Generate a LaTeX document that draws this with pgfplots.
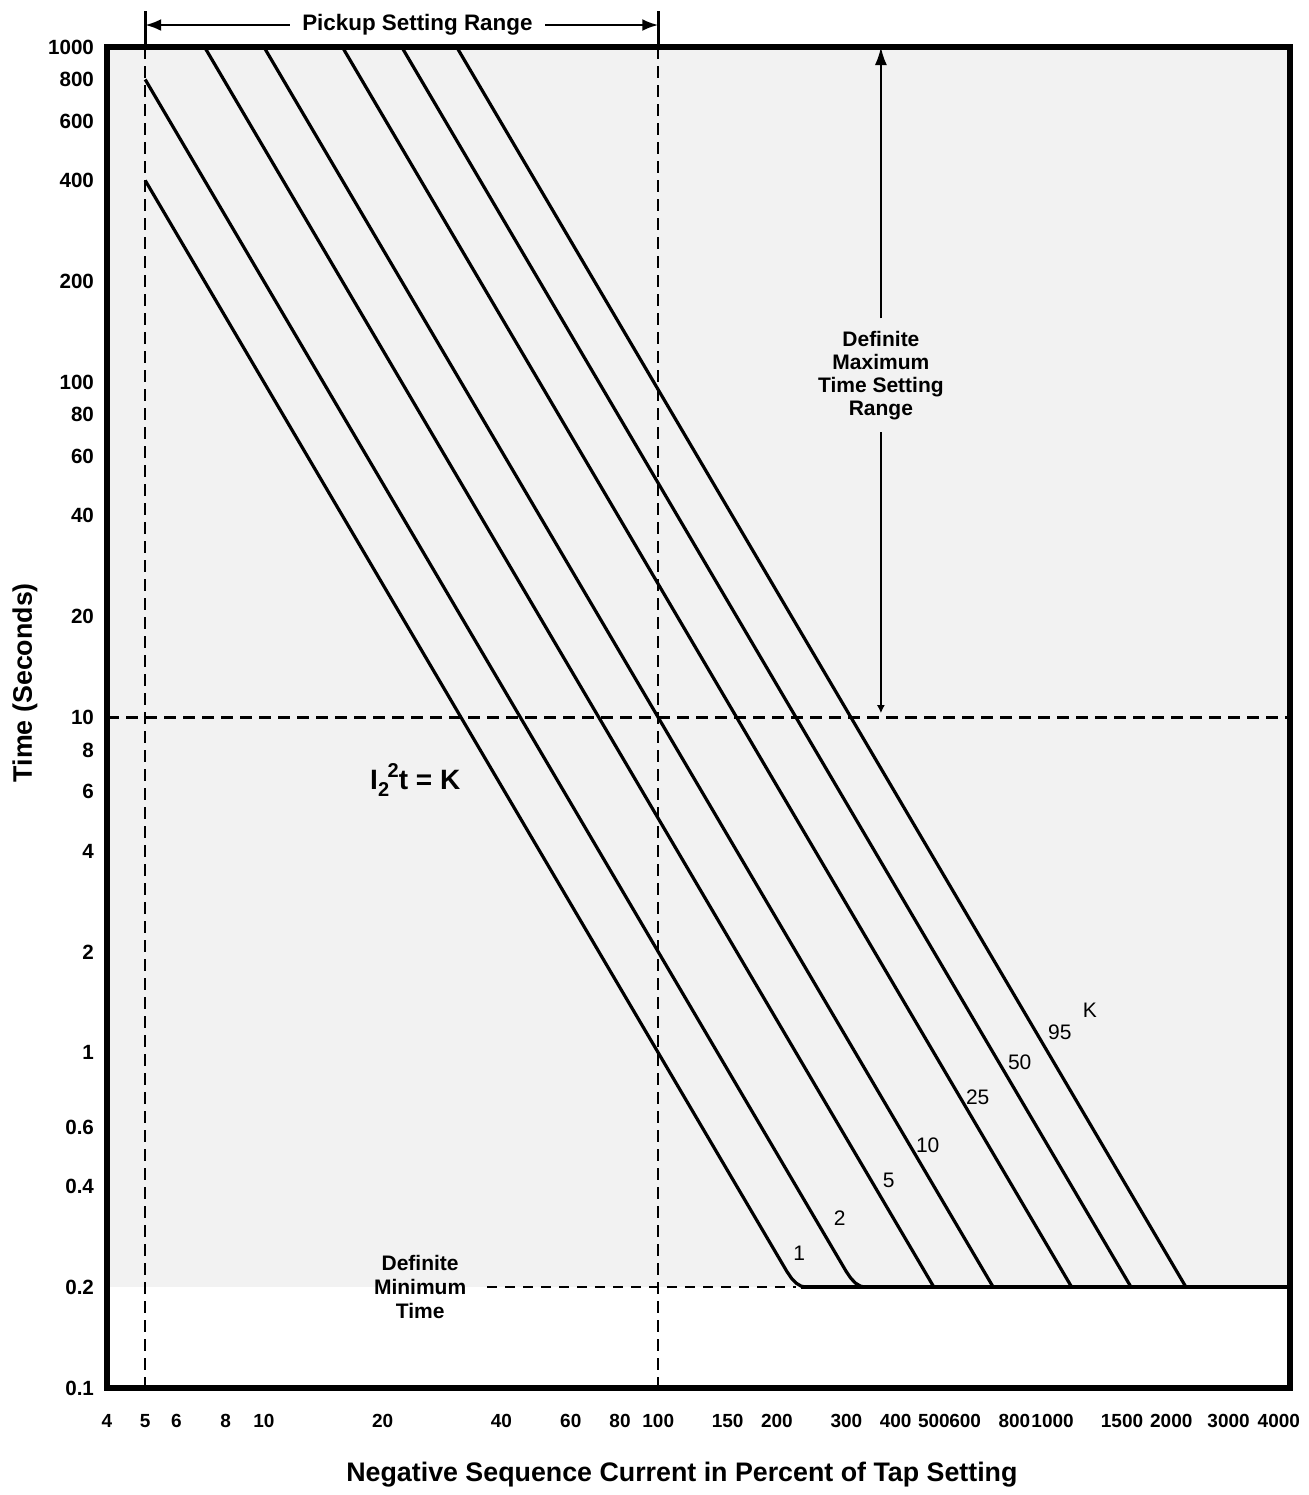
\documentclass[border=0pt]{standalone}
\usepackage{fontspec}
\setmainfont{Liberation Sans}
\usepackage{pgfplots}
\pgfplotsset{compat=1.18}
\usetikzlibrary{arrows.meta}
\begin{document}
\begin{tikzpicture}
\useasboundingbox (-53.5pt,-53.5pt) rectangle (601pt,694pt);
\begin{axis}[
  scale only axis, width=591.5pt, height=670.5pt,
  xmode=log, ymode=log,
  xmin=4, xmax=4000, ymin=0.1, ymax=1000,
  axis on top,
  axis line style={line width=2.6pt},
  major tick length=0pt, minor tick length=0pt,
  xtick={4,5,6,8,10,20,40,60,80,100,150,200,300,400,500,600,800,1000,1500,2000,3000,4000},
  xticklabels={4,5,6,8,10,20,40,60,80,100,150,200,300,400,500,600,800,1000,1500,2000,\makebox[0pt][r]{3000\kern-4.5pt},\makebox[0pt][r]{4000\kern-5pt}},
  ytick={0.1,0.2,0.4,0.6,1,2,4,6,8,10,20,40,60,80,100,200,400,600,800,1000},
  yticklabels={0.1,0.2,0.4,0.6,1,2,4,6,8,10,20,40,60,80,100,200,400,600,800,1000},
  /pgf/number format/assume math mode=true,
  xticklabel style={font=\bfseries\fontsize{9.5}{10}\selectfont, yshift=-9.5pt},
  yticklabel style={font=\bfseries\fontsize{10.3}{11}\selectfont, xshift=-3pt},
  clip=false,
]
% stippled background
\fill[black!5] (axis cs:4,0.2) rectangle (axis cs:4000,1000);

% dashed reference lines
\addplot[line width=1.2pt, dash pattern=on 6pt off 3.5pt] coordinates {(5,1000) (5,0.1)};
\addplot[line width=1.2pt, dash pattern=on 6pt off 3.5pt] coordinates {(100,1000) (100,0.1)};
\addplot[line width=1.2pt, dash pattern=on 6pt off 3.5pt] coordinates {(4,10) (4000,10)};
\addplot[line width=1.2pt, dash pattern=on 5pt off 4pt] coordinates {(36.8,0.2) (224,0.2)};

% I2^2 t = K curves
\addplot[line width=1.6pt, line join=round] coordinates {(5,400) (212,0.2225) (217.8,0.2124) (223.9,0.2054) (230.3,0.2013) (237,0.2) (4000,0.2)};
\addplot[line width=1.6pt, line join=round] coordinates {(5,800) (299.8,0.2225) (308.0,0.2124) (316.6,0.2054) (325.7,0.2013) (335.2,0.2)};
\addplot[line width=1.6pt, line join=round] coordinates {(7.071,1000) (500,0.2)};
\addplot[line width=1.6pt, line join=round] coordinates {(10,1000) (707.1,0.2)};
\addplot[line width=1.6pt, line join=round] coordinates {(15.81,1000) (1118,0.2)};
\addplot[line width=1.6pt, line join=round] coordinates {(22.36,1000) (1581,0.2)};
\addplot[line width=1.6pt, line join=round] coordinates {(30.82,1000) (2179,0.2)};
\addplot[line width=2pt] coordinates {(230,0.2) (4000,0.2)};

% curve labels
\begin{scope}[every node/.style={font=\fontsize{10.5}{12}\selectfont, xshift=3pt}]
\node at (axis cs:220,0.253) {1};
\node at (axis cs:278.6,0.321) {2};
\node at (axis cs:370.8,0.417) {5};
\node at (axis cs:465.7,0.531) {10};
\node at (axis cs:623.6,0.738) {25};
\node at (axis cs:797,0.938) {50};
\node at (axis cs:1007,1.153) {95};
\node at (axis cs:1200,1.341) {K};
\end{scope}

% equation
\node[font=\bfseries\fontsize{14}{16}\selectfont] at (axis cs:24.2,6.51)
  {I\raisebox{-0.5ex}{\fontsize{10}{10}\selectfont 2}\kern-0.05em\raisebox{0.85ex}{\fontsize{10}{10}\selectfont 2}t = K};

% definite minimum time
\node[align=center, font=\bfseries\fontsize{10.5}{12}\selectfont] at (axis cs:24.9,0.2) {Definite\\Minimum\\Time};

% definite maximum time setting range
\draw[line width=1.2pt, -{Latex[length=9pt,width=6pt]}] (axis cs:367,155) -- (axis cs:367,1000);
\draw[line width=1.2pt, -{Latex[length=4pt,width=4pt]}] (axis cs:367,71) -- (axis cs:367,10.3);
\node[align=center, font=\bfseries\fontsize{10.5}{11.5}\selectfont] at (axis cs:367,105) {Definite\\Maximum\\Time Setting\\Range};

% pickup setting range
\draw[line width=1.3pt] ([yshift=18pt]axis cs:5,1000) -- (axis cs:5,1000);
\draw[line width=1.3pt] ([yshift=18pt]axis cs:100,1000) -- (axis cs:100,1000);
\draw[line width=1.2pt, {Latex[length=8pt,width=6pt]}-{Latex[length=8pt,width=6pt]}] ([yshift=11pt]axis cs:5,1000) -- ([yshift=11pt]axis cs:100,1000);
\node[fill=white, inner xsep=6pt, inner ysep=1pt, font=\bfseries\fontsize{11.2}{12}\selectfont] at ([yshift=11pt]axis cs:24.5,1000) {Pickup Setting Range};

% axis titles
\node[rotate=90, font=\bfseries\fontsize{13.4}{15}\selectfont] at ([xshift=-41pt]rel axis cs:0,0.526) {Time (Seconds)};
\node[font=\bfseries\fontsize{13.4}{15}\selectfont] at ([yshift=-43.5pt]rel axis cs:0.486,0) {Negative Sequence Current in Percent of Tap Setting};
\end{axis}
\end{tikzpicture}
\end{document}
